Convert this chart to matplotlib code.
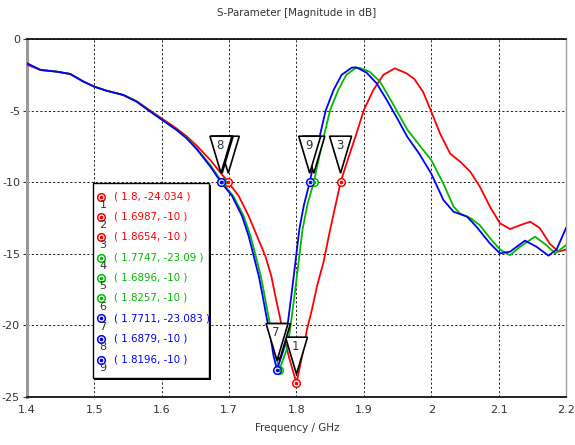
import matplotlib
matplotlib.use("Agg")
import matplotlib.pyplot as plt
from matplotlib.patches import Polygon, Rectangle
from matplotlib import transforms

# ---------------- data ----------------
freq_red = [1.40, 1.42, 1.444, 1.464, 1.484, 1.50, 1.518, 1.543, 1.563, 1.583, 1.601, 1.622,
            1.637, 1.652, 1.672, 1.6987, 1.7142, 1.729, 1.7414, 1.7537, 1.7626, 1.7686, 1.775,
            1.781, 1.7884, 1.80, 1.8082, 1.8156, 1.823, 1.8305, 1.840, 1.850, 1.8654, 1.877,
            1.889, 1.900, 1.914, 1.929, 1.946, 1.9635, 1.975, 1.988, 2.000, 2.013, 2.028,
            2.043, 2.058, 2.072, 2.087, 2.102, 2.117, 2.132, 2.147, 2.161, 2.176, 2.189, 2.200]
db_red = [-1.80, -2.16, -2.28, -2.44, -2.98, -3.33, -3.61, -3.91, -4.35, -5.00, -5.58, -6.25,
          -6.80, -7.45, -8.45, -10.0, -10.96, -12.36, -13.76, -15.15, -16.55, -17.95, -19.34,
          -20.74, -22.14, -24.034, -22.14, -20.27, -18.88, -17.25, -15.6, -13.3, -10.0, -8.3,
          -6.6, -4.96, -3.56, -2.5, -2.05, -2.4, -2.8, -3.7, -5.07, -6.6, -8.0,
          -8.57, -9.27, -10.3, -11.7, -12.87, -13.27, -13.0, -12.76, -13.2, -14.3, -14.85, -14.7]

freq_green = [1.40, 1.42, 1.444, 1.464, 1.484, 1.50, 1.518, 1.543, 1.563, 1.583, 1.601, 1.622,
              1.637, 1.652, 1.672, 1.6896, 1.706, 1.7215, 1.7318, 1.7395, 1.747, 1.7528,
              1.7582, 1.7642, 1.7695, 1.7747, 1.7855, 1.7905, 1.797, 1.803, 1.809, 1.8165,
              1.8257, 1.837, 1.850, 1.862, 1.874, 1.887, 1.894, 1.909, 1.924, 1.944, 1.964,
              1.983, 2.000, 2.018, 2.033, 2.043, 2.058, 2.072, 2.087, 2.102, 2.117, 2.132,
              2.154, 2.171, 2.184, 2.200]
db_green = [-1.70, -2.16, -2.28, -2.44, -2.98, -3.33, -3.61, -3.91, -4.38, -5.07, -5.66, -6.35,
            -6.90, -7.65, -8.80, -10.0, -10.96, -12.36, -13.76, -15.15, -16.55, -17.95,
            -19.34, -20.74, -22.14, -23.09, -21.67, -20.27, -17.95, -15.62, -13.29, -11.5,
            -10.0, -7.5, -4.96, -3.56, -2.5, -2.05, -2.02, -2.3, -2.98, -4.6, -6.3,
            -7.45, -8.45, -10.1, -11.7, -12.2, -12.5, -13.0, -13.9, -14.7, -15.1, -14.5,
            -13.8, -14.4, -14.97, -14.4]

freq_blue = [1.40, 1.42, 1.444, 1.464, 1.484, 1.50, 1.518, 1.543, 1.563, 1.583, 1.601, 1.622,
             1.637, 1.652, 1.672, 1.6879, 1.7043, 1.7191, 1.729, 1.7365, 1.744, 1.7498, 1.7552,
             1.7612, 1.766, 1.7711, 1.781, 1.7859, 1.7923, 1.7983, 1.8042, 1.811, 1.8196,
             1.831, 1.8433, 1.855, 1.867, 1.882, 1.889, 1.904, 1.919, 1.934, 1.949, 1.964,
             1.982, 2.000, 2.018, 2.033, 2.053, 2.067, 2.087, 2.102, 2.117, 2.139, 2.156,
             2.174, 2.186, 2.200]
db_blue = [-1.70, -2.16, -2.28, -2.44, -2.98, -3.33, -3.61, -3.91, -4.38, -5.07, -5.66, -6.35,
           -6.94, -7.70, -8.90, -10.0, -10.96, -12.36, -13.76, -15.15, -16.55, -17.95, -19.34,
           -20.74, -22.14, -23.083, -21.67, -20.27, -17.95, -15.62, -13.29, -11.6, -10.0,
           -7.5, -5.0, -3.56, -2.5, -2.0, -1.98, -2.35, -3.1, -4.26, -5.5, -6.8,
           -8.0, -9.4, -11.24, -12.06, -12.4, -13.1, -14.27, -14.97, -14.85, -14.08, -14.5,
           -15.13, -14.7, -13.2]

marker_ids = ["1", "2", "3", "4", "5", "6", "7", "8", "9"]
marker_freq = [1.8, 1.6987, 1.8654, 1.7747, 1.6896, 1.8257, 1.7711, 1.6879, 1.8196]
marker_db = [-24.034, -10, -10, -23.09, -10, -10, -23.083, -10, -10]
marker_text = ["( 1.8, -24.034 )", "( 1.6987, -10 )", "( 1.8654, -10 )",
               "( 1.7747, -23.09 )", "( 1.6896, -10 )", "( 1.8257, -10 )",
               "( 1.7711, -23.083 )", "( 1.6879, -10 )", "( 1.8196, -10 )"]
marker_series = [0, 0, 0, 1, 1, 1, 2, 2, 2]

x_ticks = [1.4, 1.5, 1.6, 1.7, 1.8, 1.9, 2.0, 2.1, 2.2]
x_tick_labels = ["1.4", "1.5", "1.6", "1.7", "1.8", "1.9", "2", "2.1", "2.2"]
y_ticks = [0, -5, -10, -15, -20, -25]
y_tick_labels = ["0", "-5", "-10", "-15", "-20", "-25"]

title = "S-Parameter [Magnitude in dB]"
x_label = "Frequency / GHz"

# ---------------- styling ----------------
plt.rcParams["font.family"] = ["DejaVu Sans"]
colors = ["#ff0000", "#00bb00", "#0000ff"]
text_dark = "#333333"

fig = plt.figure(figsize=(5.75, 4.45), dpi=100)
ax = fig.add_axes([27 / 575, 48 / 445, 539 / 575, 358 / 445])

series = [(freq_red, db_red), (freq_green, db_green), (freq_blue, db_blue)]
for (f, d), c in zip(series, colors):
    ax.plot(f, d, color=c, lw=1.3, zorder=3, solid_joinstyle="round")

ax.set_xlim(1.4, 2.2)
ax.set_ylim(-25, 0)
ax.set_xticks(x_ticks)
ax.set_xticklabels(x_tick_labels, fontsize=8, color=text_dark)
ax.set_yticks(y_ticks)
ax.set_yticklabels(y_tick_labels, fontsize=8, color=text_dark)
ax.tick_params(axis="x", length=0, pad=6)
ax.tick_params(axis="y", length=3, pad=2, color="#333333")
ax.grid(True, color="#222222", linestyle=(0, (2.2, 2.2)), linewidth=0.7, zorder=1)

ax.spines["left"].set_color("#9a9a9a")
ax.spines["left"].set_linewidth(2.2)
ax.spines["right"].set_color("#a0a0a0")
ax.spines["right"].set_linewidth(1.0)
ax.spines["top"].set_color("#111111")
ax.spines["top"].set_linewidth(1.3)
ax.spines["bottom"].set_color("#111111")
ax.spines["bottom"].set_linewidth(1.3)

fig.text(297 / 575, 1 - 13 / 445, title, ha="center", va="center", fontsize=7.4, color=text_dark)
fig.text(297 / 575, 1 - 428 / 445, x_label, ha="center", va="center", fontsize=7.4, color=text_dark)

# markers on curves
for i in range(len(marker_ids)):
    c = colors[marker_series[i]]
    ax.plot(marker_freq[i], marker_db[i], marker="o", ms=5.5, mfc="white", mec=c, mew=1.1,
            zorder=6, clip_on=False)
    ax.plot(marker_freq[i], marker_db[i], marker="o", ms=1.6, mfc=c, mec=c, zorder=7, clip_on=False)

# triangle flags (drawn in inches offset from the marker point), later ones on top;
# a flag's number is only written when no later flag covers it
tri = [(0.0, 0.09), (-0.11, 0.46), (0.11, 0.46)]
n = len(marker_ids)
for i in range(n):
    tr = fig.dpi_scale_trans + transforms.ScaledTranslation(marker_freq[i], marker_db[i], ax.transData)
    p = Polygon(tri, closed=True, facecolor="white", edgecolor="black", lw=1.2,
                transform=tr, zorder=10 + 2 * i, clip_on=False)
    ax.add_patch(p)
    covered = any(abs(marker_freq[j] - marker_freq[i]) < 0.02 and
                  abs(marker_db[j] - marker_db[i]) < 1.0 for j in range(i + 1, n))
    if not covered:
        ax.text(-0.01, 0.37, marker_ids[i], transform=tr, ha="center", va="center",
                fontsize=8.5, color=text_dark, zorder=11 + 2 * i)

# marker table box
bx0, bx1 = (93 - 27) / 539, (209 - 27) / 539
by0, by1 = (397 - 378) / 358, (397 - 183) / 358
shadow = Rectangle((bx0 + 0.003, by0 - 0.005), bx1 - bx0, by1 - by0, transform=ax.transAxes,
                   facecolor="black", edgecolor="black", lw=0, zorder=40)
ax.add_patch(shadow)
box = Rectangle((bx0, by0), bx1 - bx0, by1 - by0, transform=ax.transAxes,
                facecolor="white", edgecolor="black", lw=1.0, zorder=41)
ax.add_patch(box)

row_y_px = [196.7, 216.6, 236.8, 257.5, 277.8, 298.0, 318.3, 338.5, 359.5]
for i in range(n):
    c = colors[marker_series[i]]
    yy = (397 - row_y_px[i]) / 358
    xi = (100.7 - 27) / 539
    ax.plot(xi, yy, marker="o", ms=5.5, mfc="white", mec=c, mew=1.1, transform=ax.transAxes,
            zorder=42, clip_on=False)
    ax.plot(xi, yy, marker="o", ms=1.6, mfc=c, mec=c, transform=ax.transAxes, zorder=43,
            clip_on=False)
    ax.text(xi + 0.004, yy - 0.024, marker_ids[i], transform=ax.transAxes, ha="center",
            va="center", fontsize=8, color=text_dark, zorder=43)
    ax.text((114 - 27) / 539, yy, marker_text[i], transform=ax.transAxes, ha="left",
            va="center", fontsize=7.4, color=c, zorder=43)

fig.savefig("out.png", dpi=100)
